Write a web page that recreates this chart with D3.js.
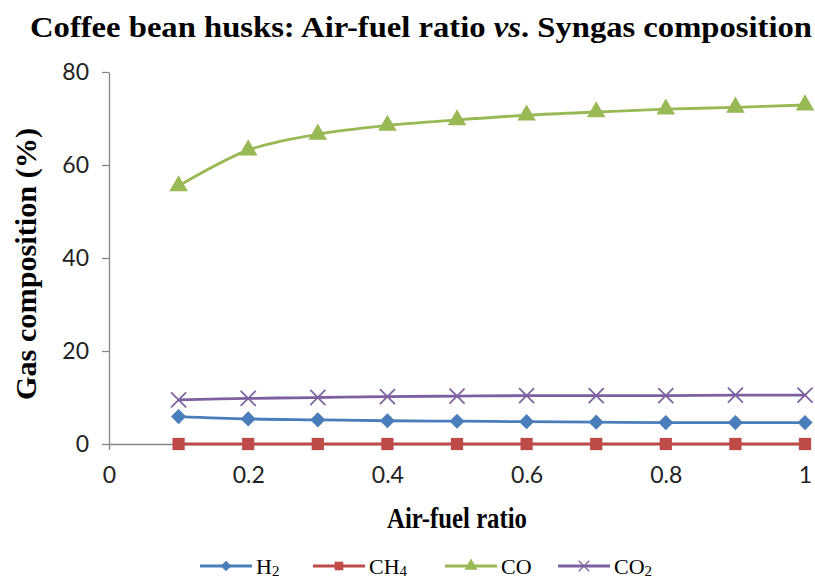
<!DOCTYPE html>
<html>
<head>
<meta charset="utf-8">
<script src="https://cdn.jsdelivr.net/npm/d3@7"></script>
<style>
  body { margin: 0; background: #fff; }
  .axis path, .axis line { stroke: #868686; stroke-width: 1.3; }
  .axis text { font-family: Lato, "Open Sans", sans-serif; font-size: 23px; fill: #222; }
  .serif { font-family: "Liberation Serif", "Times New Roman", serif; font-weight: bold; fill: #000; }
</style>
</head>
<body>
<div id="container"></div>
<script>
var margin = {top: 72, right: 10, bottom: 135, left: 109},
    totalWidth = 815,
    totalHeight = 579,
    width = 805 - margin.left,
    height = 444 - margin.top;

// data
var airFuel = [0.1, 0.2, 0.3, 0.4, 0.5, 0.6, 0.7, 0.8, 0.9, 1.0];
var h2  = [5.9, 5.4, 5.2, 5.0, 4.9, 4.8, 4.7, 4.6, 4.6, 4.6];
var ch4 = [0, 0, 0, 0, 0, 0, 0, 0, 0, 0];
var co  = [55.5, 63.2, 66.6, 68.5, 69.7, 70.7, 71.4, 72.0, 72.4, 72.9];
var co2 = [9.5, 9.8, 10.0, 10.2, 10.3, 10.4, 10.4, 10.4, 10.5, 10.5];
var xTicks = [0, 0.2, 0.4, 0.6, 0.8, 1];
var yTicks = [0, 20, 40, 60, 80];

var seriesList = [
  {name: "H", sub: "2", values: h2,  color: "#4A7EBB", symbol: "diamond"},
  {name: "CH", sub: "4", values: ch4, color: "#BE4B48", symbol: "square"},
  {name: "CO", sub: "",  values: co,  color: "#98B954", symbol: "triangle"},
  {name: "CO", sub: "2", values: co2, color: "#7D60A0", symbol: "cross"}
];

var xScale = d3.scaleLinear().domain([0, 1]).range([0, width]);
var yScale = d3.scaleLinear().domain([0, 80]).range([height, 0]);

var svg = d3.select("#container").append("svg")
    .attr("width", totalWidth).attr("height", totalHeight);

// 标题
svg.append("text").attr("class", "serif")
   .attr("x", 421).attr("y", 37)
   .attr("text-anchor", "middle")
   .attr("font-size", 30)
   .attr("textLength", 782).attr("lengthAdjust", "spacingAndGlyphs")
   .call(function(t) {
     t.append("tspan").text("Coffee bean husks: Air-fuel ratio ");
     t.append("tspan").attr("font-style", "italic").text("vs");
     t.append("tspan").text(". Syngas composition");
   });

var g = svg.append("g")
   .attr("transform", "translate(" + margin.left + "," + margin.top + ")");

g.append("g").attr("class", "axis")
 .attr("transform", "translate(0," + height + ")")
 .call(d3.axisBottom(xScale).tickValues(xTicks).tickSize(6).tickSizeOuter(0)
        .tickFormat(function(d) { return d === 0 || d === 1 ? d3.format("d")(d) : d3.format(".1f")(d); }))
 .call(function(a) { a.selectAll("text").attr("dy", "1.3em"); });

g.append("g").attr("class", "axis")
 .call(d3.axisLeft(yScale).tickValues(yTicks).tickSize(7).tickSizeOuter(0))
 .call(function(a) { a.selectAll("text").attr("x", -20); });

// 轴标题
svg.append("text").attr("class", "serif")
   .attr("x", 457).attr("y", 528)
   .attr("text-anchor", "middle").attr("font-size", 29)
   .attr("textLength", 140).attr("lengthAdjust", "spacingAndGlyphs")
   .text("Air-fuel ratio");

svg.append("text").attr("class", "serif")
   .attr("transform", "translate(36,264) rotate(-90)")
   .attr("text-anchor", "middle").attr("font-size", 29)
   .attr("textLength", 272).attr("lengthAdjust", "spacingAndGlyphs")
   .text("Gas composition (%)");

var symbols = {
  diamond: d3.symbol().type(d3.symbolSquare).size(115),
  square: d3.symbol().type(d3.symbolSquare).size(150),
  triangle: d3.symbol().type(d3.symbolTriangle).size(150),
  cross: d3.symbol().type(d3.symbolX).size(150)
};

function drawMarker(sel, s) {
  var p = sel.append("path").attr("d", symbols[s.symbol]());
  if (s.symbol === "cross") {
    p.attr("fill", "none").attr("stroke", s.color).attr("stroke-width", 1.7);
  } else {
    p.attr("fill", s.color);
  }
  if (s.symbol === "diamond") p.attr("transform", "rotate(45)");
  return p;
}

var line = d3.line()
    .x(function(d) { return xScale(d.x); })
    .y(function(d) { return yScale(d.y); })
    .curve(d3.curveCatmullRom.alpha(0.5));

seriesList.forEach(function(s) {
  var pts = airFuel.map(function(x, i) { return {x: x, y: s.values[i]}; });
  g.append("path").datum(pts)
   .attr("fill", "none").attr("stroke", s.color).attr("stroke-width", 2.8)
   .attr("d", line);
  pts.forEach(function(p) {
    drawMarker(g.append("g").attr("transform", "translate(" + xScale(p.x) + "," + yScale(p.y) + ")"), s);
  });
});

// 图例
var legendX = [200, 313, 445, 558];
seriesList.forEach(function(s, i) {
  var item = svg.append("g").attr("transform", "translate(" + legendX[i] + ",566)");
  item.append("line").attr("x1", 0).attr("x2", 52)
      .attr("stroke", s.color).attr("stroke-width", 2.8);
  drawMarker(item.append("g").attr("transform", "translate(26,0) scale(0.7)"), s);
  var t = item.append("text").attr("x", 56).attr("y", 8)
      .attr("font-family", "Liberation Serif, Times New Roman, serif")
      .attr("font-size", 22).attr("fill", "#000");
  t.append("tspan").text(s.name);
  if (s.sub) t.append("tspan").attr("font-size", 15).attr("dy", 2).text(s.sub);
});
</script>
</body>
</html>
